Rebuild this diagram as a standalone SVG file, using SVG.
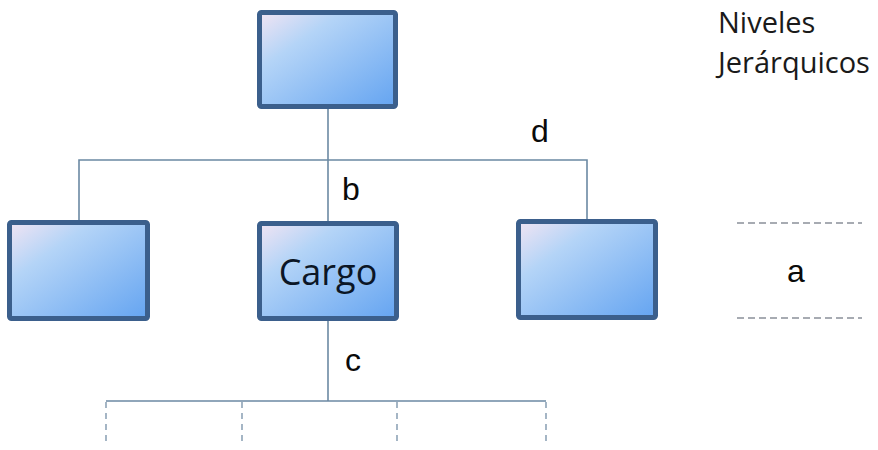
<svg xmlns="http://www.w3.org/2000/svg" width="878" height="450" viewBox="0 0 878 450">
  <defs>
    <linearGradient id="boxFill" x1="0" y1="0" x2="1" y2="1">
      <stop offset="0" stop-color="#f1e4f3"/>
      <stop offset="0.3" stop-color="#b4d4f7"/>
      <stop offset="1" stop-color="#64a4f1"/>
    </linearGradient>
    <style>
      .box { fill: url(#boxFill); stroke: #3b5f8c; stroke-width: 5; }
      .link { fill: none; stroke: #6b89a3; stroke-width: 1.6; }
      .dash { fill: none; stroke: #7f97ad; stroke-width: 1.4; stroke-dasharray: 6 5; }
      .gdash { fill: none; stroke: #8a9099; stroke-width: 1.4; stroke-dasharray: 7 4; }
      .label { font-family: "Liberation Sans", Arial, sans-serif; font-size: 32px; fill: #0a0a0a; }
      .title { font-family: "Open Sans", "Noto Sans", sans-serif; font-size: 29px; fill: #1a1a1a; }
      .cargo { font-family: "Open Sans", "Noto Sans", sans-serif; font-size: 36px; fill: #0b1626; }
    </style>
  </defs>
  <rect width="878" height="450" fill="#ffffff"/>

  <g id="connectors">
    <path class="link" d="M328 109 V221"/>
    <path class="link" d="M79 220 V160 H587 V219"/>
    <path class="link" d="M328 321 V401"/>
    <path class="link" d="M106 401 H546"/>
    <path class="dash" d="M106 402 V443 M242 402 V443 M397 402 V443 M546 402 V443"/>
  </g>

  <g id="node-top">
    <rect class="box" x="259.5" y="12.5" width="136" height="94" rx="2"/>
  </g>
  <g id="node-left">
    <rect class="box" x="9.5" y="222.5" width="138" height="96" rx="2"/>
  </g>
  <g id="node-cargo">
    <rect class="box" x="259.5" y="223.5" width="137" height="95" rx="2"/>
    <text class="cargo" x="328" y="285" text-anchor="middle">Cargo</text>
  </g>
  <g id="node-right">
    <rect class="box" x="518.5" y="221.5" width="137" height="96" rx="2"/>
  </g>

  <g id="labels">
    <text class="label" x="342" y="200">b</text>
    <text class="label" x="531" y="142">d</text>
    <text class="label" x="345" y="371">c</text>
    <text class="label" x="787" y="282">a</text>
  </g>

  <g id="levels">
    <text class="title" x="718" y="33">Niveles</text>
    <text class="title" x="718" y="73">Jerárquicos</text>
    <path class="gdash" d="M737 223 H862 M737 318 H862"/>
  </g>
</svg>
